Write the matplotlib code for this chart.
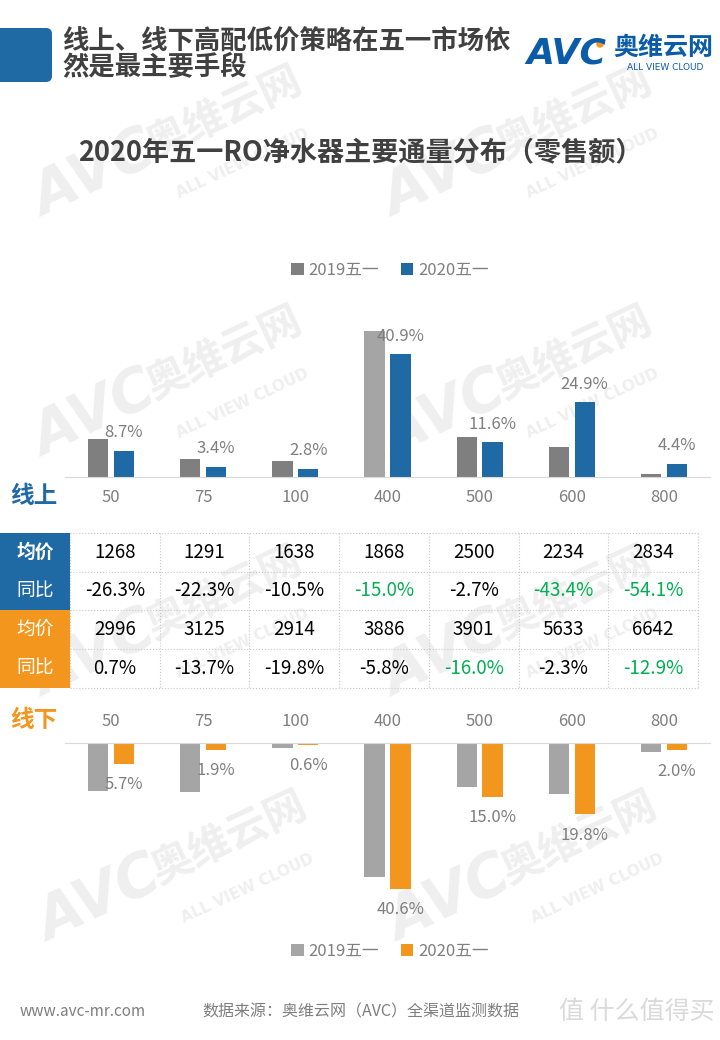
import matplotlib.pyplot as plt
import numpy as np
from matplotlib.patches import FancyBboxPatch, Rectangle, Circle

plt.rcParams['font.family'] = ['Noto Sans CJK SC', 'DejaVu Sans']

# ---- data ----
categories = ['50', '75', '100', '400', '500', '600', '800']
online_2019 = [12.5, 6.1, 5.4, 48.6, 13.2, 10.1, 1.0]
online_2020 = [8.7, 3.4, 2.8, 40.9, 11.6, 24.9, 4.4]
offline_2019 = [13.2, 13.6, 1.4, 37.2, 12.2, 14.2, 2.5]
offline_2020 = [5.7, 1.9, 0.6, 40.6, 15.0, 19.8, 2.0]

online_price = ['1268', '1291', '1638', '1868', '2500', '2234', '2834']
online_yoy = ['-26.3%', '-22.3%', '-10.5%', '-15.0%', '-2.7%', '-43.4%', '-54.1%']
online_yoy_green = [False, False, False, True, False, True, True]
offline_price = ['2996', '3125', '2914', '3886', '3901', '5633', '6642']
offline_yoy = ['0.7%', '-13.7%', '-19.8%', '-5.8%', '-16.0%', '-2.3%', '-12.9%']
offline_yoy_green = [False, False, False, False, True, False, True]

series_labels = ['2019五一', '2020五一']

# ---- style ----
BLUE = '#1f69a4'
ORANGE = '#f2961e'
DARK_GRAY = '#7f7f7f'
LIGHT_GRAY = '#a5a5a5'
GREEN = '#00b050'
TEXT_GRAY = '#7f7f7f'
TITLE_GRAY = '#404040'
WM = '#efefef'

W, H = 720, 1040


def fig_rect(left, top, right, bottom):
    return [left / W, 1 - bottom / H, (right - left) / W, (bottom - top) / H]


fig = plt.figure(figsize=(W / 100, H / 100), dpi=100)

# background layer (watermarks)
bg = fig.add_axes([0, 0, 1, 1], zorder=-2)
bg.set_xlim(0, W)
bg.set_ylim(H, 0)
bg.axis('off')


def watermark(x, y):
    kw = dict(color=WM, rotation=25, ha='center', va='center', fontweight='bold')
    bg.text(x, y, 'AVC', fontsize=42, style='italic', family='DejaVu Sans', **kw)
    bg.text(x + 130, y - 62, '奥维云网', fontsize=30, **kw)
    bg.text(x + 148, y - 12, 'ALL VIEW CLOUD', fontsize=11, family='DejaVu Sans', **kw)


for wx, wy in [(95, 175), (445, 175), (95, 415), (445, 415),
               (95, 655), (445, 655), (100, 900), (450, 900)]:
    watermark(wx, wy)

# overlay layer (header, table, footer)
ov = fig.add_axes([0, 0, 1, 1], zorder=-1)
ov.set_xlim(0, W)
ov.set_ylim(H, 0)
ov.axis('off')
ov.patch.set_visible(False)

# header
ov.add_patch(FancyBboxPatch((-10, 28), 62, 54, boxstyle='round,pad=0,rounding_size=6',
                            facecolor=BLUE, edgecolor='none'))
ov.text(62, 42, '线上、线下高配低价策略在五一市场依', fontsize=19, fontweight='bold',
        color=TITLE_GRAY, va='center', ha='left')
ov.text(62, 68, '然是最主要手段', fontsize=19, fontweight='bold',
        color=TITLE_GRAY, va='center', ha='left')

# logo
ov.text(566, 54, 'AVC', fontsize=26, fontweight='bold', style='italic', color='#0b5ca8',
        family='DejaVu Sans', ha='center', va='center')
ov.add_patch(Circle((600, 44), 3, color=ORANGE))
ov.text(663, 48, '奥维云网', fontsize=18, fontweight='bold', color='#0b5ca8',
        ha='center', va='center')
ov.text(665, 67, 'ALL VIEW CLOUD', fontsize=6.5, color='#0b5ca8', family='DejaVu Sans',
        ha='center', va='center')

# chart title
ov.text(360, 152, '2020年五一RO净水器主要通量分布（零售额）', fontsize=19.5,
        fontweight='bold', color=TITLE_GRAY, ha='center', va='center')

# section labels
ov.text(34, 496, '线上', fontsize=17, fontweight='bold', color=BLUE, ha='center', va='center')
ov.text(34, 720, '线下', fontsize=17, fontweight='bold', color=ORANGE, ha='center', va='center')

# table
row_edges = [533, 572, 610, 649, 688]
col_w = (698 - 70) / 7
col_edges = [0, 70] + [70 + col_w * (i + 1) for i in range(7)]
ov.add_patch(Rectangle((0, row_edges[0]), 70, row_edges[2] - row_edges[0],
                       facecolor=BLUE, edgecolor='none'))
ov.add_patch(Rectangle((0, row_edges[2]), 70, row_edges[4] - row_edges[2],
                       facecolor=ORANGE, edgecolor='none'))
for y in row_edges:
    ov.plot([70, 698], [y, y], color='#c8c8c8', lw=0.8, ls=':')
for x in col_edges[1:]:
    ov.plot([x, x], [row_edges[0], row_edges[-1]], color='#c8c8c8', lw=0.8, ls=':')

row_heads = ['均价', '同比', '均价', '同比']
row_vals = [online_price, online_yoy, offline_price, offline_yoy]
row_green = [[False] * 7, online_yoy_green, [False] * 7, offline_yoy_green]
for r in range(4):
    yc = (row_edges[r] + row_edges[r + 1]) / 2
    ov.text(35, yc, row_heads[r], fontsize=13.5, color='white', ha='center', va='center',
            fontweight='bold' if r == 0 else 'normal')
    for c in range(7):
        xc = (col_edges[c + 1] + col_edges[c + 2]) / 2
        ov.text(xc, yc, row_vals[r][c], fontsize=13.5, ha='center', va='center',
                color=GREEN if row_green[r][c] else 'black')

# footer
ov.text(20, 1012, 'www.avc-mr.com', fontsize=11, color=TEXT_GRAY, ha='left', va='center')
ov.text(202, 1012, '数据来源：奥维云网（AVC）全渠道监测数据', fontsize=11.5, color=TEXT_GRAY,
        ha='left', va='center')
ov.text(715, 1012, '值 什么值得买', fontsize=18, color='#dadada', ha='right', va='center')

# ---- bar charts ----
x = np.arange(len(categories))
bw = 0.22
off = 0.14

online_gray_colors = [DARK_GRAY] * len(categories)
online_gray_colors[3] = LIGHT_GRAY

ax1 = fig.add_axes(fig_rect(65, 327, 710, 477))
ax1.patch.set_visible(False)
ax1.bar(x - off, online_2019, bw, color=online_gray_colors)
ax1.bar(x + off, online_2020, bw, color=BLUE)
for xi, v in zip(x, online_2020):
    ax1.annotate(f'{v:.1f}%', xy=(xi + off, v), xytext=(0, 13), textcoords='offset points',
                 ha='center', va='center', fontsize=12, color=TEXT_GRAY)
ax1.set_xlim(-0.5, 6.5)
ax1.set_ylim(0, 50)
ax1.set_yticks([])
ax1.set_xticks(x)
ax1.set_xticklabels(categories, fontsize=12, color=TEXT_GRAY)
ax1.tick_params(axis='x', length=0, pad=9)
for s in ['top', 'left', 'right']:
    ax1.spines[s].set_visible(False)
ax1.spines['bottom'].set_color('#d9d9d9')

ax2 = fig.add_axes(fig_rect(65, 743, 710, 905))
ax2.patch.set_visible(False)
neg19 = [-v for v in offline_2019]
neg20 = [-v for v in offline_2020]
ax2.bar(x - off, neg19, bw, color=LIGHT_GRAY)
ax2.bar(x + off, neg20, bw, color=ORANGE)
for xi, v in zip(x, neg20):
    ax2.annotate(f'{-v:.1f}%', xy=(xi + off, v), xytext=(0, -15), textcoords='offset points',
                 ha='center', va='center', fontsize=12, color=TEXT_GRAY)
ax2.set_xlim(-0.5, 6.5)
ax2.set_ylim(-45, 0)
ax2.set_yticks([])
ax2.xaxis.tick_top()
ax2.set_xticks(x)
ax2.set_xticklabels(categories, fontsize=12, color=TEXT_GRAY)
ax2.tick_params(axis='x', length=0, pad=9)
for s in ['bottom', 'left', 'right']:
    ax2.spines[s].set_visible(False)
ax2.spines['top'].set_color('#d9d9d9')


def sq(color):
    return Rectangle((0, 0), 1, 1, facecolor=color, edgecolor='none')


leg_kw = dict(loc='center', ncol=2, frameon=False, fontsize=12, handlelength=0.75,
              handleheight=0.75, handletextpad=0.3, columnspacing=1.3, labelcolor=TEXT_GRAY)
fig.legend([sq(DARK_GRAY), sq(BLUE)], series_labels,
           bbox_to_anchor=(390 / W, 1 - 270 / H), **leg_kw)
fig.legend([sq(LIGHT_GRAY), sq(ORANGE)], series_labels,
           bbox_to_anchor=(390 / W, 1 - 951 / H), **leg_kw)

fig.savefig('out.png', dpi=100)
